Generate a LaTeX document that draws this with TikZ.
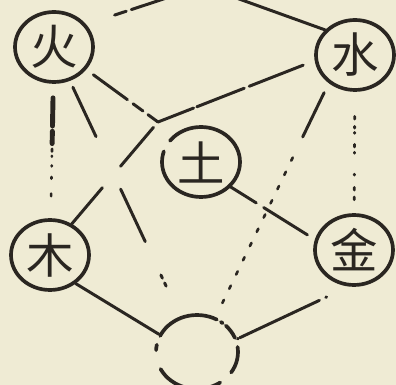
\documentclass[tikz,border=0pt]{standalone}
\usepackage{fontspec}
\newfontfamily\cjk{Noto Sans CJK SC}
\usetikzlibrary{shapes.geometric}
\definecolor{paper}{RGB}{239,235,212}
\definecolor{ink}{RGB}{42,38,33}
\begin{document}
\begin{tikzpicture}[x=.02cm,y=-.02cm,line cap=round,
    elem/.style={ellipse,draw=ink,line width=2.1pt,minimum width=1.56cm,minimum height=1.4cm,
      inner sep=0pt,text=ink,font=\cjk\fontsize{27}{27}\selectfont},
    link/.style={draw=ink,line width=1.7pt}]
  \useasboundingbox (0,0) rectangle (396,385);
  \fill[paper] (0,0) rectangle (396,385);
  \clip (0,0) rectangle (396,385);
  % the five elements and the empty centre below
  \node[elem] (huo) at (54,47) {火};
  \node[elem] (shui) at (355,55) {水};
  \node[elem,dash pattern=on 53pt off 7pt on 77pt off 0.01pt] (tu) at (201,162) {土};
  \node[elem] (mu) at (50,255) {木};
  \node[elem] (jin) at (354,250) {金};
  \node[elem,minimum width=1.64cm,minimum height=1.48cm,
    dash pattern=on 2.9pt off 5.4pt on 8.7pt off 2.3pt on 1.2pt off 2.7pt on 37pt off 5.4pt on 3.1pt off 11.2pt on 38.6pt off 8.5pt on 12pt off 0.01pt] (kong) at (197,352) {};
  \coordinate (jn) at (158,122);
  \coordinate (apex) at (203,-14);
  % fire -- water, over the top
  \draw[link,shorten <=17pt,dash pattern=on 7pt off 3pt on 300pt off 1pt] (huo.35)--(apex)--(shui.140);
  % fire, water -- junction -- wood
  \draw[link,shorten <=5pt,dash pattern=on 24pt off 4pt on 7pt off 3.5pt on 30pt off 1pt] (huo.-35)--(jn);
  \draw[link,shorten <=7pt,dash pattern=on 33pt off 3pt on 29pt off 2pt on 40pt off 1pt] (shui.188)--(jn);
  \draw[link,shorten <=4pt,dash pattern=on 29pt off 16pt on 40pt off 1pt] (jn)--(mu.55);
  % fire -- empty circle
  \draw[link,shorten <=4pt,dash pattern=on 31pt off 33pt on 33pt off 21pt on 2pt off 3pt on 2pt off 40pt] (huo)--(kong);
  % fire -- wood
  \draw[link,line width=2.8pt,shorten <=8pt,dash pattern=on 16pt off 3pt on 7pt off 200pt] (huo)--(mu);
  \draw[link,line width=1.5pt,shorten <=37pt,dash pattern=on 1.5pt off 2.5pt on 0.5pt off 5pt on 0.5pt off 6pt on 1pt off 8.5pt on 1.5pt off 50pt] (huo)--(mu);
  % water -- metal
  \draw[link,line width=1.6pt,shorten <=14pt,dash pattern=on 1.5pt off 4.2pt on 1pt off 2.4pt on 0.5pt off 6.3pt on 1.5pt off 3pt on 0.5pt off 12pt on 0.5pt off 7pt on 1.5pt off 4pt on 1.5pt off 60pt] (shui)--(jin);
  % water -- empty circle
  \draw[link,shorten <=6pt,dash pattern=on 28pt off 200pt] (shui.227)--(kong.62);
  \draw[link,line width=1.5pt,shorten <=47pt,shorten >=2pt,dash pattern=on 2pt off 7pt] (shui.227)--(kong.62);
  % earth -- metal
  \draw[link,shorten >=5pt,dash pattern=on 17pt off 5pt on 40pt off 1pt] (tu.-40)--(jin.165);
  % metal, wood -- empty circle
  \draw[link,shorten <=14pt,dash pattern=on 0.5pt off 4pt on 50pt off 1pt] (jin.262)--(kong.18);
  \draw[link] (mu.-48)--(kong.155);
\end{tikzpicture}
\end{document}
